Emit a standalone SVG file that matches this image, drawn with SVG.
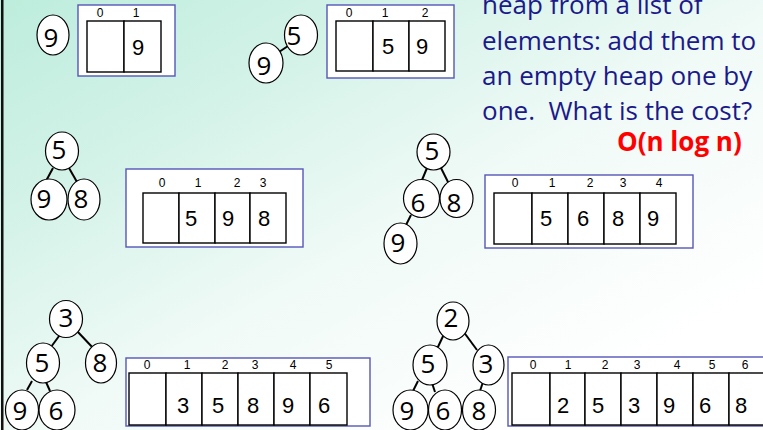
<svg xmlns="http://www.w3.org/2000/svg" width="763" height="430" viewBox="0 0 763 430">
<defs>
<linearGradient id="bg" gradientUnits="userSpaceOnUse" x1="0" y1="0" x2="310" y2="550">
<stop offset="0" stop-color="#bdeddc"/>
<stop offset="0.3" stop-color="#d3f2e8"/>
<stop offset="0.62" stop-color="#f0faf7"/>
<stop offset="1" stop-color="#ffffff"/>
</linearGradient>
<style>
.nd ellipse{fill:#fff;stroke:#000;stroke-width:1.2}
.nd text{font-family:"Open Sans","Noto Sans",sans-serif;font-size:26px;fill:#000;text-anchor:middle}
.edge line{stroke:#000;stroke-width:2}
.box{fill:#fff;stroke:#5656b8;stroke-width:1.4}
.cell{fill:#fff;stroke:#000;stroke-width:1.4}
.idx{font-family:"Liberation Sans",Arial,sans-serif;font-size:12px;fill:#000;text-anchor:middle}
.val{font-family:"Liberation Sans",Arial,sans-serif;font-size:22px;fill:#000}
.body{font-family:"Open Sans","Noto Sans",sans-serif;font-size:26px;fill:#1a1a8a}
.cost{font-family:"Open Sans","Noto Sans",sans-serif;font-size:26px;font-weight:bold;fill:#ff0000}
</style>
</defs>
<rect x="0" y="0" width="763" height="430" fill="url(#bg)"/>
<rect x="1" y="0" width="2.5" height="430" fill="#111"/>

<g id="text-block">
<text class="body" x="482" y="14">heap from a list of</text>
<text class="body" x="482" y="50">elements: add them to</text>
<text class="body" x="482" y="85">an empty heap one by</text>
<text class="body" x="482" y="120" xml:space="preserve">one.  What is the cost?</text>
<text class="cost" x="617" y="151">O(n log n)</text>
</g>

<g id="connectors" class="edge">
<line x1="279" y1="52" x2="288" y2="46"/>
<line x1="53" y1="168" x2="46" y2="181"/>
<line x1="69" y1="168" x2="77" y2="182"/>
<line x1="427" y1="168" x2="422" y2="180"/>
<line x1="441" y1="168" x2="449" y2="184"/>
<line x1="411" y1="215" x2="406" y2="225"/>
<line x1="62" y1="332" x2="51" y2="347"/>
<line x1="77" y1="331" x2="94" y2="349"/>
<line x1="32" y1="381" x2="27" y2="390"/>
<line x1="46" y1="382" x2="50" y2="391"/>
<line x1="445" y1="332" x2="437" y2="349"/>
<line x1="463" y1="331" x2="477" y2="350"/>
<line x1="418" y1="381" x2="413" y2="391"/>
<line x1="432" y1="383" x2="435" y2="392"/>
<line x1="483" y1="382" x2="480" y2="391"/>
</g>

<!-- Panel 1 -->
<g id="p1-n9" class="nd"><ellipse cx="53" cy="35" rx="16" ry="20"/><text x="51" y="47">9</text></g>
<g id="p1-array">
<rect class="box" x="78" y="5" width="97" height="71"/>
<rect class="cell" x="87" y="21" width="37" height="51"/>
<rect class="cell" x="124" y="21" width="37" height="51"/>
<text class="idx" x="100" y="17">0</text><text class="idx" x="136" y="17">1</text>
<text class="val" x="132" y="55">9</text>
</g>

<!-- Panel 2 -->
<g id="p2-n5" class="nd"><ellipse cx="301" cy="35" rx="16.5" ry="20"/><text x="294" y="45">5</text></g>
<g id="p2-n9" class="nd"><ellipse cx="266" cy="63" rx="17" ry="20"/><text x="264" y="75">9</text></g>
<g id="p2-array">
<rect class="box" x="327" y="5" width="127" height="73"/>
<rect class="cell" x="336" y="21" width="37" height="50"/>
<rect class="cell" x="373" y="21" width="36" height="50"/>
<rect class="cell" x="409" y="21" width="36" height="50"/>
<text class="idx" x="349" y="17">0</text><text class="idx" x="385" y="17">1</text><text class="idx" x="425" y="17">2</text>
<text class="val" x="382" y="54">5</text><text class="val" x="416" y="54">9</text>
</g>

<!-- Panel 3 -->
<g id="p3-n5" class="nd"><ellipse cx="62" cy="151" rx="16.5" ry="19"/><text x="59" y="159">5</text></g>
<g id="p3-n9" class="nd"><ellipse cx="49" cy="199.5" rx="18" ry="20.5"/><text x="44" y="208">9</text></g>
<g id="p3-n8" class="nd"><ellipse cx="84" cy="199.5" rx="16" ry="20.5"/><text x="81" y="208">8</text></g>
<g id="p3-array">
<rect class="box" x="126" y="169" width="177" height="78"/>
<rect class="cell" x="143" y="193" width="36" height="50"/>
<rect class="cell" x="179" y="193" width="36" height="50"/>
<rect class="cell" x="215" y="193" width="35" height="50"/>
<rect class="cell" x="250" y="193" width="36" height="50"/>
<text class="idx" x="162" y="187">0</text><text class="idx" x="198" y="187">1</text><text class="idx" x="237" y="187">2</text><text class="idx" x="263" y="187">3</text>
<text class="val" x="185" y="226">5</text><text class="val" x="222" y="226">9</text><text class="val" x="258" y="226">8</text>
</g>

<!-- Panel 4 -->
<g id="p4-n5" class="nd"><ellipse cx="433.5" cy="152" rx="16.5" ry="18"/><text x="432" y="160">5</text></g>
<g id="p4-n6" class="nd"><ellipse cx="421.5" cy="198.5" rx="18" ry="19"/><text x="418" y="212">6</text></g>
<g id="p4-n8" class="nd"><ellipse cx="456.5" cy="198.5" rx="16.5" ry="19"/><text x="454" y="212">8</text></g>
<g id="p4-n9" class="nd"><ellipse cx="400.5" cy="243.5" rx="16.5" ry="20.5"/><text x="398" y="252">9</text></g>
<g id="p4-array">
<rect class="box" x="485" y="175" width="208" height="73"/>
<rect class="cell" x="494" y="193" width="38" height="51"/>
<rect class="cell" x="532" y="193" width="36" height="51"/>
<rect class="cell" x="568" y="193" width="36" height="51"/>
<rect class="cell" x="604" y="193" width="36" height="51"/>
<rect class="cell" x="640" y="193" width="36" height="51"/>
<text class="idx" x="515" y="187">0</text><text class="idx" x="552" y="187">1</text><text class="idx" x="590" y="187">2</text><text class="idx" x="623" y="187">3</text><text class="idx" x="659" y="187">4</text>
<text class="val" x="540" y="226">5</text><text class="val" x="577" y="226">6</text><text class="val" x="612" y="226">8</text><text class="val" x="647" y="226">9</text>
</g>

<!-- Panel 5 -->
<g id="p5-n3" class="nd"><ellipse cx="66" cy="319" rx="16.5" ry="18.5"/><text x="66" y="327">3</text></g>
<g id="p5-n5" class="nd"><ellipse cx="43" cy="363" rx="16.5" ry="20"/><text x="42" y="372">5</text></g>
<g id="p5-n8" class="nd"><ellipse cx="101" cy="363" rx="15.5" ry="20"/><text x="100" y="372">8</text></g>
<g id="p5-n9" class="nd"><ellipse cx="22" cy="410" rx="16.5" ry="20"/><text x="20" y="420">9</text></g>
<g id="p5-n6" class="nd"><ellipse cx="57" cy="410" rx="18" ry="20"/><text x="56" y="420">6</text></g>
<g id="p5-array">
<rect class="box" x="126" y="358" width="244" height="68"/>
<rect class="cell" x="129" y="373" width="37" height="52"/>
<rect class="cell" x="166" y="373" width="36" height="52"/>
<rect class="cell" x="202" y="373" width="36" height="52"/>
<rect class="cell" x="238" y="373" width="36" height="52"/>
<rect class="cell" x="274" y="373" width="36" height="52"/>
<rect class="cell" x="310" y="373" width="37" height="52"/>
<text class="idx" x="147" y="369">0</text><text class="idx" x="187" y="369">1</text><text class="idx" x="225" y="369">2</text><text class="idx" x="255" y="369">3</text><text class="idx" x="293" y="369">4</text><text class="idx" x="329" y="369">5</text>
<text class="val" x="177" y="413">3</text><text class="val" x="212" y="413">5</text><text class="val" x="247" y="413">8</text><text class="val" x="282" y="413">9</text><text class="val" x="318" y="413">6</text>
</g>

<!-- Panel 6 -->
<g id="p6-n2" class="nd"><ellipse cx="453" cy="321" rx="16" ry="19"/><text x="451" y="327">2</text></g>
<g id="p6-n5" class="nd"><ellipse cx="430" cy="365" rx="17" ry="20"/><text x="428" y="373">5</text></g>
<g id="p6-n3" class="nd"><ellipse cx="488.5" cy="365" rx="15.5" ry="20"/><text x="486" y="373">3</text></g>
<g id="p6-n9" class="nd"><ellipse cx="410.5" cy="410" rx="17.5" ry="20"/><text x="407" y="420">9</text></g>
<g id="p6-n6" class="nd"><ellipse cx="445" cy="410" rx="16.5" ry="20"/><text x="443" y="420">6</text></g>
<g id="p6-n8" class="nd"><ellipse cx="479" cy="410" rx="16.5" ry="20"/><text x="479" y="420">8</text></g>
<g id="p6-array">
<rect class="box" x="508" y="357" width="270" height="69"/>
<rect class="cell" x="512" y="373" width="38" height="52"/>
<rect class="cell" x="550" y="373" width="35" height="52"/>
<rect class="cell" x="585" y="373" width="36" height="52"/>
<rect class="cell" x="621" y="373" width="36" height="52"/>
<rect class="cell" x="657" y="373" width="36" height="52"/>
<rect class="cell" x="693" y="373" width="36" height="52"/>
<rect class="cell" x="729" y="373" width="36" height="52"/>
<text class="idx" x="533" y="369">0</text><text class="idx" x="568" y="369">1</text><text class="idx" x="605" y="369">2</text><text class="idx" x="637" y="369">3</text><text class="idx" x="677" y="369">4</text><text class="idx" x="712" y="369">5</text><text class="idx" x="745" y="369">6</text>
<text class="val" x="557" y="413">2</text><text class="val" x="592" y="413">5</text><text class="val" x="628" y="413">3</text><text class="val" x="663" y="413">9</text><text class="val" x="699" y="413">6</text><text class="val" x="735" y="413">8</text>
</g>
</svg>
